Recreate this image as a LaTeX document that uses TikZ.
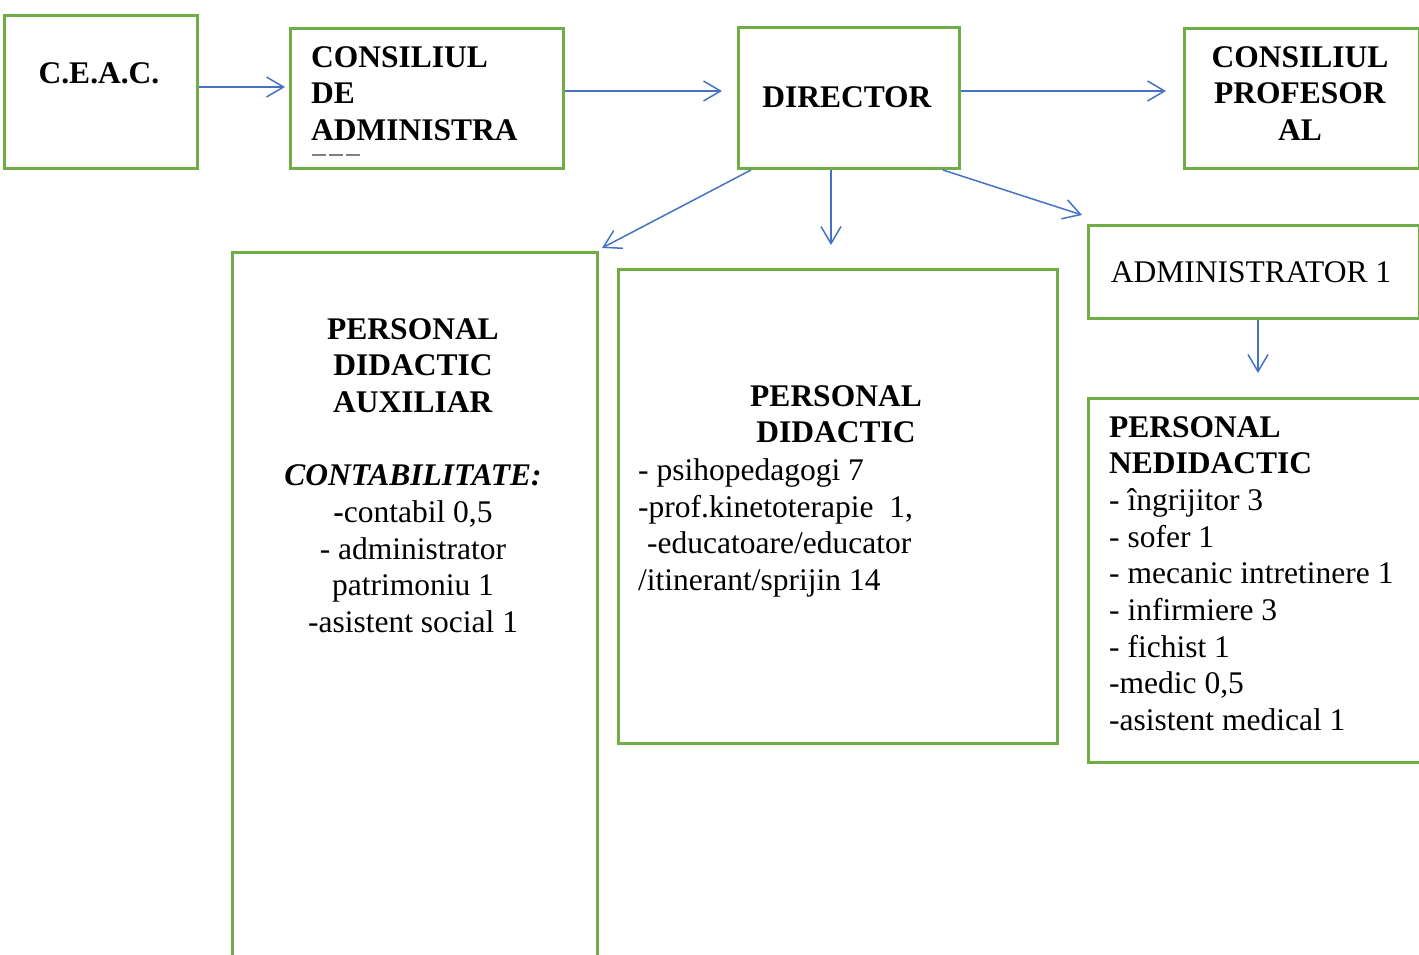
\documentclass[tikz,border=0pt]{standalone}
\usepackage{fontspec}
\setmainfont{Liberation Serif}
\usetikzlibrary{arrows.meta}

\definecolor{boxgreen}{HTML}{70AD47}
\definecolor{arrblue}{HTML}{4472C4}

\tikzset{
  box/.style={draw=boxgreen, line width=3pt, inner sep=0pt, anchor=north west},
  arr/.style={draw=arrblue, line width=1.5pt, -{Straight Barb[length=17pt, width=20pt]}},
  lbl/.style={inner sep=0pt, font=\fontsize{31.5}{36.7}\selectfont}
}

\begin{document}
\begin{tikzpicture}[x=1pt, y=-1pt]
        \useasboundingbox (0,0) rectangle (1419,954);
        \clip (0,0) rectangle (1419,954);

        % Top row
        \node[box, minimum width=193pt, minimum height=153pt] (ceac) at (3,14) {};
        \node[box, minimum width=273pt, minimum height=140pt] (cda) at (289,27) {};
        \node[box, minimum width=221pt, minimum height=141pt] (dir) at (737,26) {};
        \node[box, minimum width=235pt, minimum height=140pt] (cp) at (1183,27) {};

        \node[lbl, anchor=base] (ceact) at (99,83) {\textbf{C.E.A.C.}};
        \node[lbl, anchor=north west, align=left] (cdat) at (311,46)
            {\textbf{CONSILIUL}\\\textbf{DE}\\\textbf{ADMINISTRA}};
        \draw[gray, line width=1.2pt, dash pattern=on 14pt off 3pt] (312,155) -- (362,155);
        \node[lbl, anchor=base] (dirt) at (847,107) {\textbf{DIRECTOR}};
        \node[lbl, anchor=north, align=center] (cpt) at (1300,46)
            {\textbf{CONSILIUL}\\\textbf{PROFESOR}\\\textbf{AL}};

        % Lower boxes
        \node[box, minimum width=331pt, minimum height=93pt] (adm) at (1087,224) {};
        \node[box, minimum width=365pt, minimum height=730pt] (pda) at (231,251) {};
        \node[box, minimum width=439pt, minimum height=474pt] (pd) at (617,268) {};
        \node[box, minimum width=350pt, minimum height=364pt] (pn) at (1087,397) {};

        \node[lbl, anchor=base] (admt) at (1251,282) {ADMINISTRATOR 1};
        \node[lbl, anchor=north, align=center] (pdat) at (413,318)
            {\textbf{PERSONAL}\\\textbf{DIDACTIC}\\\textbf{AUXILIAR}\\\mbox{}\\
             \textbf{\textit{CONTABILITATE:}}\\\textbf{-}contabil 0,5\\- administrator\\
             patrimoniu 1\\-asistent social 1};
        \node[lbl, anchor=north, align=center] (pdtt) at (836,385)
            {\textbf{PERSONAL}\\\textbf{DIDACTIC}};
        \node[lbl, anchor=north west, align=left] (pdl) at (638,458.5)
            {- psihopedagogi 7\\-prof.kinetoterapie\ \ 1,\\\hspace{9pt}-educatoare/educator\\/itinerant/sprijin 14};
        \node[lbl, anchor=north west, align=left] (pnt) at (1109,416)
            {\textbf{PERSONAL}\\\textbf{NEDIDACTIC}\\- îngrijitor 3\\- sofer 1\\- mecanic intretinere 1\\
             - infirmiere 3\\- fichist 1\\-medic 0,5\\-asistent medical 1};

        % Arrow ends
        \coordinate (cdaend) at (285,87);
        \coordinate (dirend) at (722,91);
        \coordinate (cpend) at (1166,91);
        \coordinate (pdaend) at (602,248);
        \coordinate (pdend) at (831,245);
        \coordinate (admend) at (1082,215);
        \coordinate (pnend) at (1258,373);

        % Connectors
        \draw[arr] (ceac.east |- cdaend) -- (cdaend);
        \draw[arr] (cda.east |- dirend) -- (dirend);
        \draw[arr] (dir.east |- cpend) -- (cpend);
        \draw[arr] ([xshift=14pt]dir.south west) -- (pdaend);
        \draw[arr] (dir.south -| pdend) -- (pdend);
        \draw[arr] ([xshift=-18pt]dir.south east) -- (admend);
        \draw[arr] (adm.south -| pnend) -- (pnend);
    \end{tikzpicture}
\end{document}
